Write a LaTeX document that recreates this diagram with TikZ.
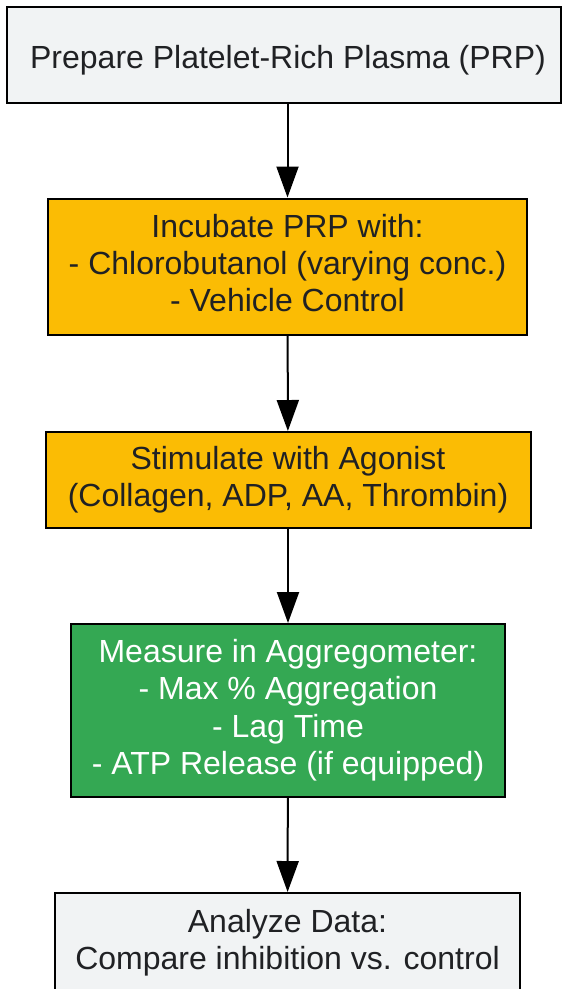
\documentclass[tikz,border=0pt]{standalone}
\usepackage{fontspec}
\setmainfont{Liberation Sans}
\usetikzlibrary{arrows.meta}
\definecolor{boxgray}{HTML}{F1F3F4}
\definecolor{boxyellow}{HTML}{FBBC04}
\definecolor{boxgreen}{HTML}{34A853}
\definecolor{textdark}{HTML}{202124}
\begin{document}
\begin{tikzpicture} [x=1pt, y=-1pt,
                     stepbox/.style= {shape=rectangle, draw=black,
                                      line width=2pt, inner sep=0,
                                      align=center, text=textdark,
                                      font=\fontsize{32}{37.3}\selectfont,
                                      execute at begin node={\rule{0pt}{33pt}},
                                      execute at end node={\rule[-7pt]{0pt}{0pt}}},
                     flow/.style= {line width=2pt,
                                   -{Triangle[width=22pt,length=31pt]}}]
\useasboundingbox (0,0) rectangle (562,989);

\node[stepbox, fill=boxgray, minimum width=554pt, minimum height=96pt] (prep) at (284,55)
     {\hspace*{8pt}Prepare Platelet-Rich Plasma (PRP)};
\node[stepbox, fill=boxyellow, minimum width=479pt, minimum height=136pt] (incub) at (287.5,266.5)
     {Incubate PRP with:\\- Chlorobutanol (varying conc.)\\- Vehicle Control};
\node[stepbox, fill=boxyellow, minimum width=485pt, minimum height=96pt] (stim) at (288,480)
     {Stimulate with Agonist\\(Collagen, ADP, AA, Thrombin)};
\node[stepbox, fill=boxgreen, text=white, minimum width=434pt, minimum height=173pt] (meas) at (288,710.5)
     {Measure in Aggregometer:\\- Max \% Aggregation\\- Lag Time\\- ATP Release (if equipped)};
\node[stepbox, fill=boxgray, minimum width=465pt, minimum height=100pt] (anal) at (287.5,943)
     {Analyze Data:\\Compare inhibition vs. control};

\draw[flow] (prep.south -| incub.north) -- (incub.north);
\draw[flow] (incub) -- (stim);
\draw[flow] (stim) -- (meas);
\draw[flow] (meas) -- (anal);
\end{tikzpicture}
\end{document}
